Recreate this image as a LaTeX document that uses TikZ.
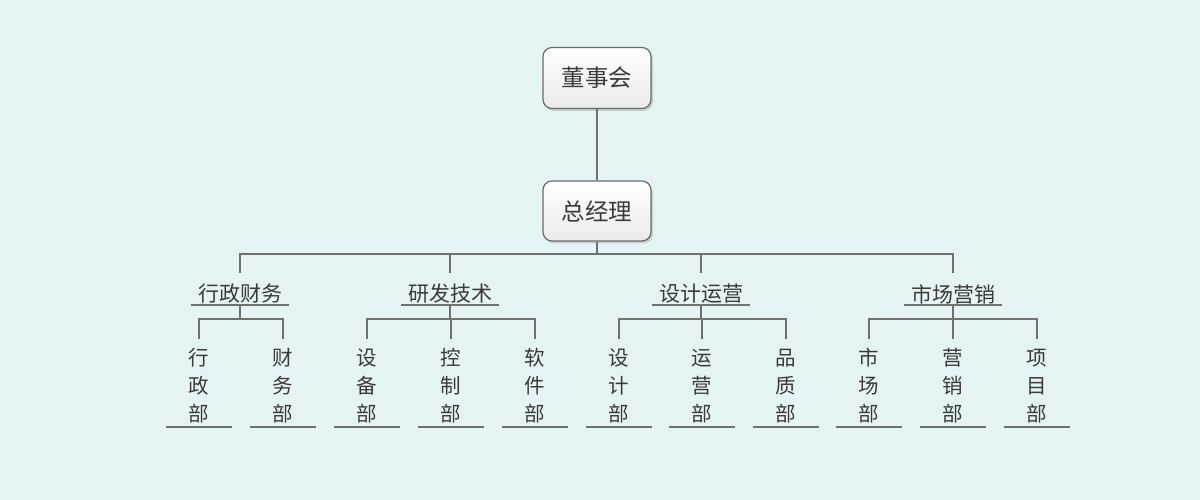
\documentclass[tikz,border=0pt]{standalone}
\usepackage{fontspec}
\newfontfamily\cjk{Noto Sans CJK SC}
\usetikzlibrary{shadows,calc}
\definecolor{bg}{HTML}{E4F3F4}
\definecolor{ln}{HTML}{707070}
\definecolor{boxline}{HTML}{6A6A6A}
\definecolor{txt}{HTML}{3A3A3A}
\tikzset{
  topbox/.style={draw=boxline, line width=1.2pt, rounded corners=9pt, top color=white, bottom color=black!8,
    minimum width=108pt, minimum height=61pt, inner sep=0pt, font=\cjk\fontsize{23.5}{26}\selectfont, text=txt,
    drop shadow={shadow xshift=2pt, shadow yshift=-2.5pt, fill=black!35, opacity=0.45}},
  grp/.style={minimum width=97pt, minimum height=22pt, inner sep=0pt, font=\cjk\fontsize{21}{24}\selectfont, text=txt},
  leaf/.style={minimum width=66pt, minimum height=82pt, inner sep=0pt, align=center, font=\cjk\fontsize{20.5}{28}\selectfont, text=txt},
  conn/.style={draw=ln, line width=1.7pt},
}
\begin{document}
\begin{tikzpicture}[x=1pt,y=1pt]
\fill[bg] (0,0) rectangle (1200,500);
\useasboundingbox (0,0) rectangle (1200,500);

\node[topbox] (top) at (597,422) {董事会};
\node[topbox, minimum height=60pt] (gm) at (597,289) {总经理};
\draw[conn] (top) -- (gm);
\coordinate (bus) at (597,246);
\draw[conn] (gm) -- (bus);

\node[grp] (g1) at (240,206) {行政财务};
\node[grp] (g2) at (450,206) {研发技术};
\node[grp] (g3) at (701,206) {设计运营};
\node[grp] (g4) at (953,206) {市场营销};
\foreach \g in {g1,g2,g3,g4}{
  \draw[conn] (\g.south west) -- (\g.south east);
  \draw[conn, shorten >=10pt] (bus) -| (\g);
}

\node[leaf] (l1) at (199,114) {行\\政\\部};
\node[leaf] (l2) at (283,114) {财\\务\\部};
\node[leaf] (l3) at (367,114) {设\\备\\部};
\node[leaf] (l4) at (451,114) {控\\制\\部};
\node[leaf] (l5) at (535,114) {软\\件\\部};
\node[leaf] (l6) at (619,114) {设\\计\\部};
\node[leaf] (l7) at (702,114) {运\\营\\部};
\node[leaf] (l8) at (786,114) {品\\质\\部};
\node[leaf] (l9) at (869,114) {市\\场\\部};
\node[leaf] (l10) at (953,114) {营\\销\\部};
\node[leaf] (l11) at (1037,114) {项\\目\\部};
\foreach \l in {l1,l2,l3,l4,l5,l6,l7,l8,l9,l10,l11}{
  \draw[conn] (\l.south west) -- (\l.south east);
}
\foreach \g/\l in {g1/l1,g1/l2,g2/l3,g2/l4,g2/l5,g3/l6,g3/l7,g3/l8,g4/l9,g4/l10,g4/l11}{
  \draw[conn, shorten >=6pt] (\g.south) |- ([yshift=-14pt]\g.south) -| (\l);
}
\end{tikzpicture}
\end{document}
